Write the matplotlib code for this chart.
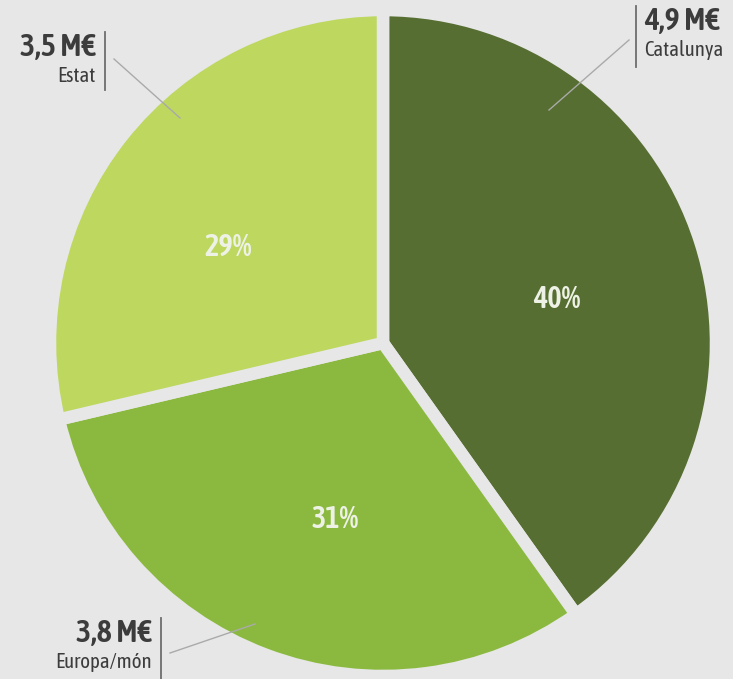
import matplotlib
matplotlib.use("Agg")
import matplotlib.pyplot as plt

regions = ["Catalunya", "Europa/món", "Estat"]
amounts = [4.9, 3.8, 3.5]
amount_labels = ["4,9 M€", "3,8 M€", "3,5 M€"]
colors = ["#566e31", "#8bb940", "#bdd75f"]

bg = "#e6e7e6"
W, H = 733, 679

plt.rcParams["font.family"] = ["Asap Condensed", "DejaVu Sans"]

fig = plt.figure(figsize=(W / 100, H / 100), dpi=100, facecolor=bg)
ax = fig.add_axes([0, 0, 1, 1])
ax.set_facecolor(bg)

wedges, texts, autotexts = ax.pie(
    amounts, colors=colors, startangle=90, counterclock=False,
    center=(383, H - 343), radius=333, frame=True,
    autopct="%.0f%%", pctdistance=0.55,
    wedgeprops=dict(edgecolor=bg, linewidth=9),
    textprops=dict(color="#eef2e6", fontsize=22, fontweight="semibold"))
ax.set_xlim(0, W)
ax.set_ylim(0, H)
ax.set_aspect("equal")
ax.axis("off")

# percentage labels sit a little off the wedge middles in the original
for t, (px, py) in zip(autotexts, [(557, 300), (335, 520), (228, 247)]):
    t.set_position((px, H - py))

dark = "#3c3c3c"


def label(x_line, y_top, y_bot, amount, name, side):
    ax.plot([x_line, x_line], [H - y_top, H - y_bot], color="#6e6e6e", lw=1.3)
    if side == "right":
        x, ha = x_line + 8, "left"
    else:
        x, ha = x_line - 9, "right"
    ax.text(x, H - y_top - 15, amount, ha=ha, va="center", fontsize=23,
            fontweight="semibold", color=dark)
    ax.text(x, H - y_top - 44, name, ha=ha, va="center", fontsize=15,
            color=dark)


label(636, 6, 67, amount_labels[0], regions[0], "right")
label(105, 32, 90, amount_labels[2], regions[2], "left")
label(161, 618, 679, amount_labels[1], regions[1], "left")

for (x0, y0), (x1, y1) in [((549, 110), (629, 40)),
                           ((114, 59), (180, 118)),
                           ((170, 653), (255, 624))]:
    ax.plot([x0, x1], [H - y0, H - y1], color="#a9aaa9", lw=1)

fig.savefig("out.png", dpi=100, facecolor=bg)
